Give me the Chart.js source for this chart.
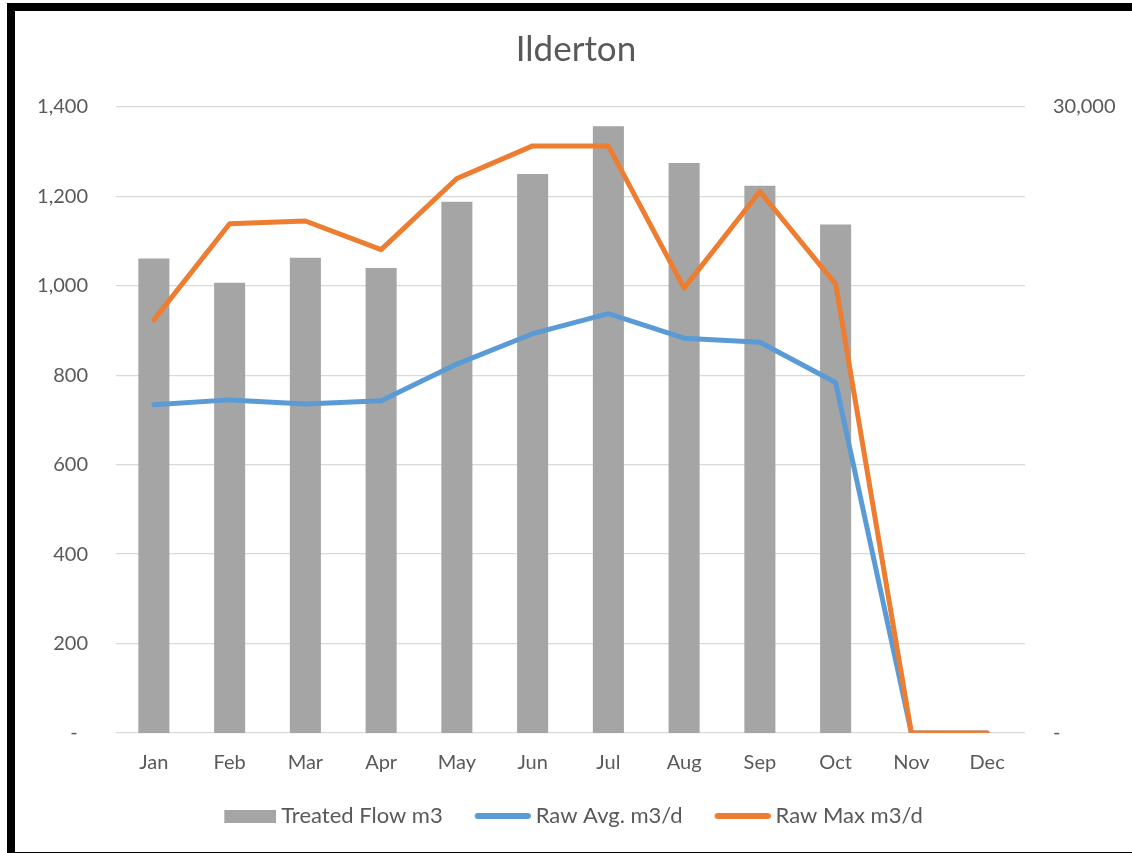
<!DOCTYPE html>
<html>
<head>
<meta charset="utf-8">
<title>Ilderton</title>
<script src="https://cdn.jsdelivr.net/npm/chart.js"></script>
<style>
  body { margin: 0; background: #fff; }
  #wrap { position: relative; width: 1132px; height: 853px; overflow: hidden; }
  #frame {
    position: absolute; left: 7px; top: 3px; width: 1200px; height: 850px;
    box-sizing: border-box; border-top: 8px solid #000; border-left: 8px solid #000;
    border-bottom: 1px solid #000; pointer-events: none;
  }
  canvas { position: absolute; left: 0; top: 0; }
</style>
</head>
<body>
<div id="wrap">
  <canvas id="grafico" width="1132" height="853"></canvas>
  <div id="frame"></div>
</div>
<script>
// datos
const months = ['Jan', 'Feb', 'Mar', 'Apr', 'May', 'Jun', 'Jul', 'Aug', 'Sep', 'Oct', 'Nov', 'Dec'];
const treatedFlow = [22740, 21580, 22780, 22290, 25460, 26790, 29080, 27320, 26230, 24370, 0, 0];
const rawAvg = [734, 745, 736, 743, 825, 893, 938, 883, 874, 784, 0, 0];
const rawMax = [924, 1139, 1145, 1081, 1240, 1313, 1313, 995, 1211, 1004, 0, 0];
const leftTicks = [0, 200, 400, 600, 800, 1000, 1200, 1400];
const rightTicks = [0, 30000];

const GRIS = '#A5A5A5', AZUL = '#5B9BD5', NARANJA = '#ED7D31', TEXTO = '#595959';
const FUENTE = 'Lato, "Liberation Sans", sans-serif';

// muestra de leyenda: parte visible a la derecha, margen transparente a la izquierda
function muestra(margen, w, h, color, redondo) {
    const c = document.createElement('canvas');
    c.width = margen + w; c.height = h;
    const g = c.getContext('2d');
    if (redondo) {
        g.strokeStyle = color;
        g.lineWidth = h;
        g.lineCap = 'round';
        g.beginPath();
        g.moveTo(margen + h / 2, h / 2);
        g.lineTo(margen + w - h / 2, h / 2);
        g.stroke();
    } else {
        g.fillStyle = color;
        g.fillRect(margen, 0, w, h);
    }
    return c;
}
const muestras = [muestra(12, 52, 13, GRIS, false), muestra(8, 56, 6, AZUL, true), muestra(8, 56, 6, NARANJA, true)];

function etiqueta(v) {
    return v === 0 ? '-  ' : v.toLocaleString('en-US');
}

const ctx = document.getElementById('grafico').getContext('2d');
window.myChart = new Chart(ctx, {
    data: {
        labels: months,
        datasets: [{
            type: 'bar',
            label: 'Treated Flow m3',
            data: treatedFlow,
            backgroundColor: GRIS,
            yAxisID: 'y1',
            order: 2,
            barPercentage: 0.41,
            categoryPercentage: 1
        }, {
            type: 'line',
            label: 'Raw Avg. m3/d',
            data: rawAvg,
            borderColor: AZUL,
            backgroundColor: AZUL,
            borderWidth: 5,
            borderCapStyle: 'round',
            borderJoinStyle: 'round',
            pointRadius: 0,
            tension: 0,
            yAxisID: 'y',
            order: 1
        }, {
            type: 'line',
            label: 'Raw Max m3/d',
            data: rawMax,
            borderColor: NARANJA,
            backgroundColor: NARANJA,
            borderWidth: 5,
            borderCapStyle: 'round',
            borderJoinStyle: 'round',
            pointRadius: 0,
            tension: 0,
            yAxisID: 'y',
            order: 0
        }]
    },
    options: {
        responsive: false,
        animation: false,
        layout: { padding: { left: 20, right: 0, top: 0, bottom: 16 } },
        scales: {
            x: {
                grid: { display: false, drawTicks: false },
                border: { display: false },
                ticks: { color: TEXTO, font: { family: FUENTE, size: 20, lineHeight: 1 }, padding: 20 },
                afterFit: s => { s.height = 42; }
            },
            y: {
                position: 'left',
                min: 0, max: 1400,
                afterBuildTicks: s => { s.ticks = leftTicks.map(v => ({ value: v })); },
                grid: { color: '#D9D9D9', lineWidth: 1.3, drawTicks: false },
                border: { display: false },
                ticks: { color: TEXTO, font: { family: FUENTE, size: 20 }, padding: 28, callback: etiqueta },
                afterFit: s => { s.width = 96; }
            },
            y1: {
                position: 'right',
                min: 0, max: 30000,
                afterBuildTicks: s => { s.ticks = rightTicks.map(v => ({ value: v })); },
                grid: { display: false, drawTicks: false },
                border: { display: false },
                ticks: { color: TEXTO, font: { family: FUENTE, size: 20 }, padding: 28,
                         callback: v => v === 0 ? '-' : v.toLocaleString('en-US') },
                afterFit: s => { s.width = 107; }
            }
        },
        plugins: {
            title: {
                display: true,
                text: 'Ilderton',
                color: TEXTO,
                font: { family: FUENTE, size: 35, weight: 'normal' },
                padding: { top: 29, bottom: 36 }
            },
            legend: {
                position: 'bottom',
                fullSize: false,
                labels: {
                    color: TEXTO,
                    font: { family: FUENTE, size: 22 },
                    usePointStyle: true,
                    pointStyleWidth: 52,
                    padding: 30,
                    sort: (a, b) => a.datasetIndex - b.datasetIndex,
                    generateLabels: chart => {
                        const items = Chart.defaults.plugins.legend.labels.generateLabels(chart);
                        items.forEach(it => { it.pointStyle = muestras[it.datasetIndex]; });
                        return items;
                    }
                }
            },
            tooltip: { enabled: false }
        }
    }
});
</script>
</body>
</html>
